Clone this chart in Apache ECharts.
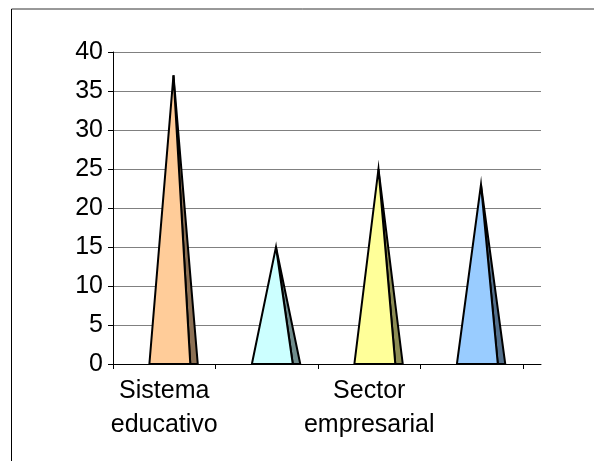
<!DOCTYPE html>
<html>
<head>
<meta charset="utf-8">
<script src="https://cdn.jsdelivr.net/npm/echarts@6/dist/echarts.min.js"></script>
<style>
html,body{margin:0;padding:0;background:#fff;}
#chart{width:594px;height:461px;}
</style>
</head>
<body>
<div id="chart"></div>
<script>
const categories = ["Sistema educativo", "", "Sector empresarial", ""];
const values = [37, 15, 25, 23];
const yTicks = [0, 5, 10, 15, 20, 25, 30, 35, 40];

const frontColors = ["#FFCC99", "#CCFFFF", "#FFFF99", "#99CCFF"];
const sideColors = ["#8C7054", "#708C8C", "#8C8C54", "#54708C"];

const chart = echarts.init(document.getElementById('chart'), null, {renderer: 'canvas'});
const font = '"Liberation Sans", Arial, sans-serif';

const option = {
  animation: false,
  backgroundColor: '#fff',
  graphic: [
    {type: 'line', shape: {x1: 11.5, y1: 9, x2: 594, y2: 9}, style: {stroke: '#333', lineWidth: 1}, z: 10},
    {type: 'line', shape: {x1: 11.5, y1: 9, x2: 11.5, y2: 461}, style: {stroke: '#000', lineWidth: 1}, z: 10}
  ],
  grid: [
    {left: 113, top: 52, width: 410, height: 312},
    {left: 113, top: 52, width: 428, height: 312}
  ],
  xAxis: [
    {
      type: 'category', gridIndex: 0, data: categories, boundaryGap: true,
      axisLine: {show: true, lineStyle: {color: '#000', width: 1}},
      axisTick: {show: true, length: 5, interval: 0, lineStyle: {color: '#000'}},
      axisLabel: {
        interval: 0, color: '#000', fontSize: 25, fontFamily: font, lineHeight: 34, margin: 10,
        formatter: v => v.replace(' ', '\n')
      },
      splitLine: {show: false}
    },
    {
      type: 'value', gridIndex: 1, min: 0, max: 1,
      axisLine: {show: true, onZero: false, lineStyle: {color: '#000', width: 1}},
      axisTick: {show: false}, axisLabel: {show: false}, splitLine: {show: false}
    }
  ],
  yAxis: [
    {
      type: 'value', gridIndex: 0, min: yTicks[0], max: yTicks[yTicks.length - 1], interval: 5,
      axisLine: {show: true, lineStyle: {color: '#000', width: 1}},
      axisTick: {show: true, length: 5, inside: false, lineStyle: {color: '#000'}},
      axisLabel: {color: '#000', fontSize: 25, fontFamily: font, margin: 10},
      splitLine: {show: false}
    },
    {
      type: 'value', gridIndex: 1, min: yTicks[0], max: yTicks[yTicks.length - 1], interval: 5,
      axisLine: {show: false}, axisTick: {show: false}, axisLabel: {show: false},
      splitLine: {show: true, lineStyle: {color: '#808080', width: 1}}
    }
  ],
  series: [{
    type: 'custom',
    xAxisIndex: 0, yAxisIndex: 0,
    data: values.map((v, i) => [i, v]),
    renderItem: function (params, api) {
      const idx = api.value(0);
      const top = api.coord([idx, api.value(1)]);
      const base = api.coord([idx, 0]);
      const bw = api.size([1, 0])[0];
      const cx = base[0], y0 = base[1], yt = top[1];
      const left = cx - 0.145 * bw;
      const fr = cx + 0.254 * bw;
      const dr = cx + 0.327 * bw;
      const ax = cx + 0.09 * bw;
      return {
        type: 'group',
        children: [
          {type: 'polygon', shape: {points: [[fr, y0], [dr, y0], [ax, yt]]},
           style: {fill: sideColors[idx], stroke: '#000', lineWidth: 2, lineJoin: 'miter'}},
          {type: 'polygon', shape: {points: [[left, y0], [fr, y0], [ax, yt]]},
           style: {fill: frontColors[idx], stroke: '#000', lineWidth: 2, lineJoin: 'miter'}}
        ]
      };
    }
  }]
};
chart.setOption(option);
</script>
</body>
</html>
